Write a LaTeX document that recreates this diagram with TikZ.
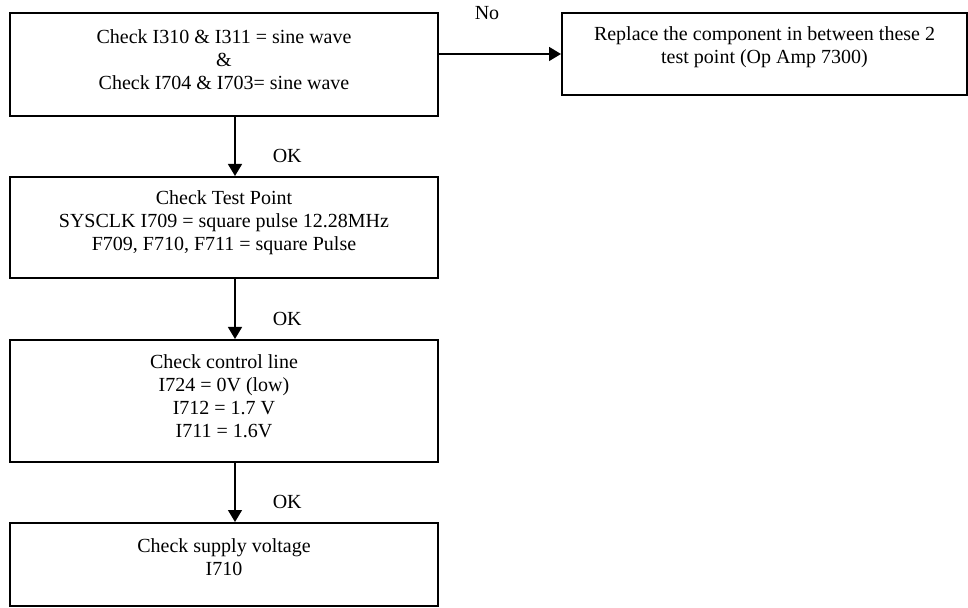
\documentclass[tikz,border=0pt]{standalone}
\usepackage{fontspec}
\setmainfont{Liberation Serif}
\usetikzlibrary{arrows.meta, positioning, calc}

\tikzset{
  chkbox/.style={draw, line width=1pt, inner sep=0pt, minimum width=214pt},
  chktext/.style={align=center, font=\fontsize{10}{11.5}\selectfont, inner sep=0pt},
  flow/.style={line width=0.75pt, -{Triangle[length=6pt, width=7pt]}},
  cond/.style={font=\fontsize{10}{11.5}\selectfont, inner sep=0pt},
  oklabel/.style={cond, anchor=west, xshift=18.5pt}
}

\begin{document}
\begin{tikzpicture}[x=0.5pt, y=-0.5pt]
\useasboundingbox (0,0) rectangle (968,608);

% Check boxes (left column)
\node[chkbox, minimum height=51.5pt] (sine) at (224,64.5) {};
\node[chkbox, minimum height=50.5pt] (clk) at (224,227.5) {};
\node[chkbox, minimum height=61pt] (ctrl) at (224,401) {};
\node[chkbox, minimum height=41.5pt] (supply) at (224,564.5) {};

% Replace box (right)
\node[chkbox, minimum width=202.5pt, minimum height=41pt] (repl) at (764.5,54) {};

% Box texts
\node[chktext] (sinetxt) at ([yshift=2.5pt]sine.center)
    {Check I310 \& I311 = sine wave\\\&\\Check I704 \& I703= sine wave};
\node[chktext] (clktxt) at ([yshift=2.5pt]clk.center)
    {Check Test Point\\SYSCLK I709 = square pulse 12.28MHz\\F709, F710, F711 = square Pulse};
\node[chktext] (ctrltxt) at ([yshift=2.5pt]ctrl.center)
    {Check control line\\I724 = 0V (low)\\I712 = 1.7 V\\I711 = 1.6V};
\node[chktext] (supplytxt) at ([yshift=3.5pt]supply.center)
    {Check supply voltage\\I710};
\node[chktext] (repltxt) at ([yshift=3.5pt]repl.center)
    {Replace the component in between these 2\\test point (Op Amp 7300)};

% Flow arrows
\draw[flow] ([xshift=5.5pt]sine.south) -- ([xshift=5.5pt]clk.north)
    node[oklabel, pos=0.66] {OK};
\draw[flow] ([xshift=5.5pt]clk.south) -- ([xshift=5.5pt]ctrl.north)
    node[oklabel, pos=0.66] {OK};
\draw[flow] ([xshift=5.5pt]ctrl.south) -- ([xshift=5.5pt]supply.north)
    node[oklabel, pos=0.66] {OK};
\draw[flow] (sine.east |- repl.west) -- (repl.west)
    node[cond, midway, above=17pt, xshift=-6.5pt] {No};

\end{tikzpicture}
\end{document}
